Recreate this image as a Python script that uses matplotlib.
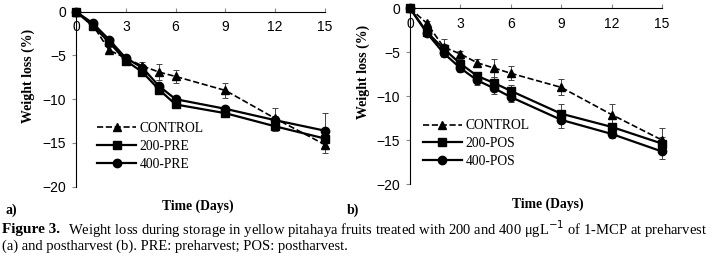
import matplotlib.pyplot as plt
from matplotlib.lines import Line2D

days = [0, 1, 2, 3, 4, 5, 6, 9, 12, 15]

# panel a (preharvest)
ctrl_a = [0, -1.5, -4.4, -5.3, -6.2, -6.9, -7.4, -9.0, -12.2, -15.2]
ctrl_a_err = [0, 0.2, 0.4, 0.3, 0.4, 0.9, 0.7, 0.9, 1.2, 1.0]
pre200 = [0, -1.6, -3.5, -5.6, -6.9, -8.9, -10.6, -11.6, -13.1, -14.5]
pre200_err = [0, 0.2, 0.3, 0.2, 0.3, 0.3, 0.3, 0.4, 0.5, 0.9]
pre400 = [0, -1.3, -3.2, -5.3, -6.4, -8.5, -10.0, -11.1, -12.4, -13.6]
pre400_err = [0, 0.2, 0.3, 0.2, 0.3, 0.3, 0.3, 0.3, 0.5, 2.0]

# panel b (postharvest)
ctrl_b = [0, -1.7, -4.4, -5.2, -6.2, -6.8, -7.4, -9.0, -12.1, -15.0]
ctrl_b_err = [0, 0.2, 0.9, 0.3, 0.4, 1.0, 0.8, 0.9, 1.2, 1.4]
pos200 = [0, -2.7, -4.6, -6.3, -7.7, -8.5, -9.4, -12.0, -13.5, -15.4]
pos200_err = [0, 0.2, 0.5, 0.5, 0.5, 0.7, 0.7, 1.1, 0.5, 0.8]
pos400 = [0, -2.8, -5.1, -6.8, -8.2, -9.1, -10.1, -12.7, -14.3, -16.3]
pos400_err = [0, 0.2, 0.5, 0.5, 0.5, 0.6, 0.6, 0.9, 0.5, 0.8]

serif = ['Liberation Serif', 'DejaVu Serif']
sans = ['Liberation Sans', 'DejaVu Sans']

fig = plt.figure(figsize=(7.15, 2.67), dpi=100)


def panel(rect, series, labels, letter, letter_x, leg_x, xlab_x, ylab_x):
    ax = fig.add_axes(rect)
    styles = [('^', '--', 1.2), ('s', '-', 1.6), ('o', '-', 1.6)]
    handles = []
    for (y, e), lab, (m, ls, lw) in zip(series, labels, styles):
        ax.errorbar(days, y, yerr=e, color='black', marker=m, ms=6, ls=ls, lw=lw,
                    elinewidth=0.7, ecolor='#444444', capsize=2.5, capthick=0.7,
                    clip_on=False, zorder=3)
        handles.append(Line2D([], [], color='black', marker=m, ms=6, ls=ls, lw=lw))
    ax.set_xlim(0, 15)
    ax.set_ylim(-20, 0)
    ax.set_xticks([0, 3, 6, 9, 12, 15])
    ax.set_yticks([-20, -15, -10, -5, 0])
    ax.spines['top'].set_visible(False)
    ax.spines['right'].set_visible(False)
    ax.spines['bottom'].set_position(('data', 0))
    for s in ('left', 'bottom'):
        ax.spines[s].set_linewidth(0.8)
    ax.tick_params(axis='x', direction='in', length=3, width=0.8, color='#888888',
                   labelsize=10, pad=6)
    ax.tick_params(axis='y', direction='out', length=3, width=0.8, color='#888888',
                   labelsize=10, pad=4)
    for t in ax.get_xticklabels() + ax.get_yticklabels():
        t.set_family(sans)
    ax.set_ylabel('Weight loss (%)', family=serif, fontweight='bold', fontsize=10)
    ax.yaxis.set_label_coords(ylab_x, 0.635)
    ax.set_xlabel('Time (Days)', family=serif, fontweight='bold', fontsize=9.8)
    ax.xaxis.set_label_coords(xlab_x, -0.075)
    ax.legend(handles, labels, loc='center left', bbox_to_anchor=(leg_x, 0.23),
              frameon=False, prop={'family': serif, 'size': 9.8},
              handlelength=2.9, handletextpad=0.25, labelspacing=0.35,
              borderaxespad=0, borderpad=0)
    fig.text(letter_x, 1 - 210 / 267, letter, family=serif, fontweight='bold',
             fontsize=10, va='center')
    return ax


panel([76 / 715, 1 - 186.7 / 267, 249 / 715, 175 / 267],
      [(ctrl_a, ctrl_a_err), (pre200, pre200_err), (pre400, pre400_err)],
      ['CONTROL', '200-PRE', '400-PRE'], 'a)', 6 / 715, 0.084, 0.49, -0.165)
panel([410 / 715, 1 - 184 / 267, 252 / 715, 175.7 / 267],
      [(ctrl_b, ctrl_b_err), (pos200, pos200_err), (pos400, pos400_err)],
      ['CONTROL', '200-POS', '400-POS'], 'b)', 347 / 715, 0.05, 0.547, -0.16)

fig.text(2 / 715, 1 - 229 / 267, 'Figure 3.', family=serif, fontweight='bold',
         fontsize=11, va='center')
fig.text(68 / 715, 1 - 229 / 267,
         'Weight loss during storage in yellow pitahaya fruits treated with 200 and 400 '
         '\u03bcgL$^{-1}$ of 1-MCP at preharvest',
         family=serif, fontsize=10.5, va='center')
fig.text(2 / 715, 1 - 246 / 267,
         '(a) and postharvest (b). PRE: preharvest; POS: postharvest.',
         family=serif, fontsize=10.5, va='center')

fig.savefig('out.png', dpi=100)
